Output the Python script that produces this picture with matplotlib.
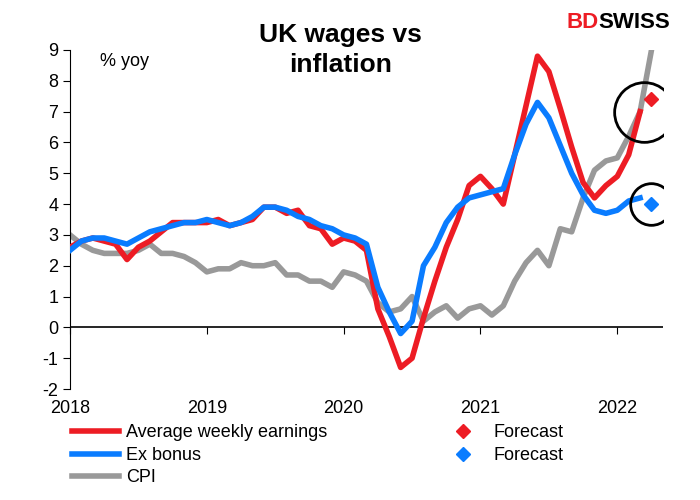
import matplotlib
matplotlib.use("Agg")
import matplotlib.pyplot as plt
import numpy as np

plt.rcParams["font.family"] = "Liberation Sans"
plt.rcParams["axes.unicode_minus"] = False

awe = [2.6,2.8,2.9,2.8,2.7,2.2,2.6,2.8,3.1,3.4,3.4,3.4,
       3.4,3.5,3.3,3.4,3.5,3.9,3.9,3.7,3.8,3.3,3.2,2.7,
       2.9,2.8,2.5,0.6,-0.3,-1.3,-1.0,0.3,1.5,2.6,3.5,4.6,
       4.9,4.5,4.0,5.6,7.2,8.8,8.3,7.1,5.85,4.7,4.2,4.6,
       4.9,5.6,7.0]
exb = [2.5,2.8,2.9,2.9,2.8,2.7,2.9,3.1,3.2,3.3,3.4,3.4,
       3.5,3.4,3.3,3.4,3.6,3.9,3.9,3.8,3.6,3.5,3.3,3.2,
       3.0,2.9,2.7,1.3,0.5,-0.2,0.2,2.0,2.6,3.4,3.9,4.2,
       4.3,4.4,4.5,5.6,6.6,7.3,6.8,5.9,5.0,4.3,3.8,3.7,
       3.8,4.1,4.2]
cpi = [3.0,2.7,2.5,2.4,2.4,2.4,2.5,2.7,2.4,2.4,2.3,2.1,
       1.8,1.9,1.9,2.1,2.0,2.0,2.1,1.7,1.7,1.5,1.5,1.3,
       1.8,1.7,1.5,0.8,0.5,0.6,1.0,0.2,0.5,0.7,0.3,0.6,
       0.7,0.4,0.7,1.5,2.1,2.5,2.0,3.2,3.1,4.2,5.1,5.4,
       5.5,6.2,7.0,9.0]
fc_awe = 7.4
fc_exb = 4.0
fc_month = 51
years = ["2018","2019","2020","2021","2022"]

fig = plt.figure(figsize=(7,5), dpi=100)
ax = fig.add_axes([0.1, 0.222, 0.847, 0.678])
ax.plot(np.arange(len(awe)), awe, color="#ED1C24", lw=4, label="Average weekly earnings", zorder=3)
ax.plot(np.arange(len(exb)), exb, color="#0A7CFF", lw=4, label="Ex bonus", zorder=4)
ax.plot(np.arange(len(cpi)), cpi, color="#999999", lw=4, label="CPI", zorder=2)
ax.plot([fc_month], [fc_awe], ls="none", marker="D", color="#ED1C24", ms=7, label="Forecast", zorder=5)
ax.plot([fc_month], [fc_exb], ls="none", marker="D", color="#0A7CFF", ms=7, label="Forecast", zorder=5)
ax.plot([50.3], [7.0], ls="none", marker="o", mfc="none", mec="black", mew=2, ms=43, zorder=6)
ax.plot([fc_month], [fc_exb], ls="none", marker="o", mfc="none", mec="black", mew=2, ms=30, zorder=6)

ax.set_xlim(0, 52)
ax.set_ylim(-2, 9)
ax.set_yticks(range(-2, 10))
ax.tick_params(axis="y", labelsize=13, length=5)
ax.set_xticks([0,12,24,36,48])
ax.set_xticklabels(years, fontsize=13)
ax.tick_params(axis="x", length=0, pad=8)
for s in ["top","right","bottom"]:
    ax.spines[s].set_visible(False)
ax.axhline(0, color="black", lw=1.2)
sec = ax.secondary_xaxis(2/11)
sec.set_xticks([0,12,24,36,48])
sec.set_xticklabels([])
sec.tick_params(length=5, direction="out")
sec.spines["bottom"].set_visible(False)
ax.text(0.05, 0.99, "% yoy", transform=ax.transAxes, fontsize=13, va="top")

fig.text(0.486, 0.90, "UK wages vs\ninflation", ha="center", va="center", fontsize=19,
         fontweight="bold", linespacing=1.3)
fig.text(0.855, 0.955, "BD", color="#ED1C24", fontsize=16, fontweight="bold", ha="right", va="center")
fig.text(0.855, 0.955, "SWISS", color="black", fontsize=16, fontweight="bold", ha="left", va="center")

h, l = ax.get_legend_handles_labels()
fig.legend(h, l, ncol=2, loc="lower left", bbox_to_anchor=(0.08, -0.005), frameon=False,
           fontsize=13, handlelength=2.6, columnspacing=6.2, labelspacing=0.3, handletextpad=0.4)
fig.savefig("out.png", dpi=100)
